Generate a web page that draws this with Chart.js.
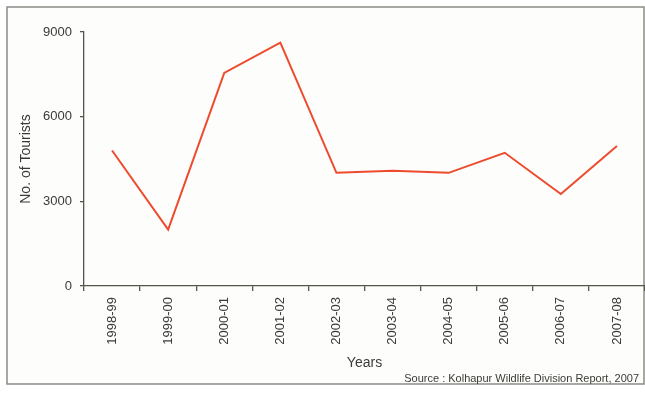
<!DOCTYPE html>
<html>
<head>
<meta charset="utf-8">
<script src="https://cdn.jsdelivr.net/npm/chart.js@4.4.0/dist/chart.umd.min.js"></script>
<style>
  html, body { margin: 0; padding: 0; background: #ffffff; }
  #wrap { width: 645px; height: 393px; position: relative; }
</style>
</head>
<body>
<div id="wrap"><canvas id="chart" width="645" height="393"></canvas></div>
<script>
// tourist arrivals per year
const years = ['1998-99', '1999-00', '2000-01', '2001-02', '2002-03',
               '2003-04', '2004-05', '2005-06', '2006-07', '2007-08'];
const tourists = [4800, 2000, 7550, 8620, 4010, 4080, 4010, 4720, 3260, 4960];
const yTicks = [0, 3000, 6000, 9000];
const sourceNote = 'Source : Kolhapur Wildlife Division Report, 2007';

const axisColor = '#55554a';
const textColor = '#3a3a36';
const fontFamily = '"Liberation Sans", Arial, sans-serif';

// outer frame and source line
const framePlugin = {
  id: 'frame',
  beforeDraw(chart) {
    const ctx = chart.ctx;
    ctx.save();
    ctx.fillStyle = '#fdfdfb';
    ctx.fillRect(7, 7, 637, 377);
    ctx.strokeStyle = '#8a8a86';
    ctx.lineWidth = 1.5;
    ctx.strokeRect(7, 7, 637, 377);
    ctx.restore();
  },
  afterDraw(chart) {
    const ctx = chart.ctx;
    ctx.save();
    ctx.font = '11px ' + fontFamily;
    ctx.fillStyle = textColor;
    ctx.textAlign = 'right';
    ctx.textBaseline = 'middle';
    ctx.fillText(sourceNote, 639, 379);
    ctx.restore();
  }
};

const ctx = document.getElementById('chart').getContext('2d');
new Chart(ctx, {
  type: 'line',
  data: {
    labels: years,
    datasets: [{
      data: tourists,
      borderColor: '#ee4b2e',
      borderWidth: 2,
      pointRadius: 0,
      tension: 0,
      fill: false
    }]
  },
  options: {
    responsive: false,
    animation: false,
    layout: { padding: { top: 32, right: 0, bottom: 0, left: 0 } },
    plugins: {
      legend: { display: false },
      tooltip: { enabled: false }
    },
    scales: {
      x: {
        offset: true,
        afterFit(scale) { scale.height = 107; },
        grid: {
          offset: true,
          drawOnChartArea: false,
          drawTicks: true,
          tickLength: 5,
          tickColor: axisColor,
          lineWidth: 1.3
        },
        border: { display: true, color: axisColor, width: 1.3 },
        ticks: {
          autoSkip: false,
          minRotation: 90,
          maxRotation: 90,
          padding: 6,
          color: textColor,
          font: { family: fontFamily, size: 13 }
        },
        title: {
          display: true,
          text: 'Years',
          color: textColor,
          font: { family: fontFamily, size: 14 },
          padding: { top: 0, bottom: 21 }
        }
      },
      y: {
        min: 0,
        max: 9000,
        afterFit(scale) { scale.width = 84; },
        afterBuildTicks(scale) { scale.ticks = yTicks.map(v => ({ value: v })); },
        grid: {
          drawOnChartArea: false,
          drawTicks: true,
          tickLength: 4,
          tickColor: axisColor,
          lineWidth: 1.3
        },
        border: { display: true, color: axisColor, width: 1.3 },
        ticks: {
          padding: 8,
          color: textColor,
          font: { family: fontFamily, size: 13 },
          callback: v => String(v)
        },
        title: {
          display: true,
          text: 'No. of Tourists',
          color: textColor,
          font: { family: fontFamily, size: 14 },
          padding: { top: 18, bottom: 0 }
        }
      }
    }
  },
  plugins: [framePlugin]
});
</script>
</body>
</html>
